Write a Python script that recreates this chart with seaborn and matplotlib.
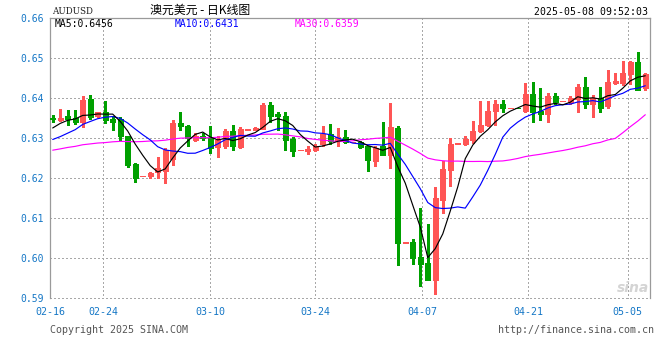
import numpy as np
import pandas as pd
import matplotlib
matplotlib.use("Agg")
import matplotlib.pyplot as plt
import seaborn as sns

# ---------------- data ----------------
# closes of the 29 sessions before the visible window (only used for the moving averages)
prior_close = [0.6255, 0.6240, 0.6262, 0.6275, 0.6290,
               0.6300, 0.6312, 0.6285, 0.6270, 0.6250,
               0.6215, 0.6190, 0.6175, 0.6210, 0.6225,
               0.6250, 0.6268, 0.6285, 0.6290, 0.6297,
               0.6280, 0.6262, 0.6255, 0.6265, 0.6280,
               0.6295, 0.6310, 0.6325, 0.6352]

open_ = [0.6351, 0.6346, 0.6356, 0.6351, 0.6342, 0.6398, 0.6355, 0.6365, 0.6349, 0.6348,
         0.6305, 0.6235, 0.6206, 0.6207, 0.6215, 0.6219, 0.6248, 0.6338, 0.6332, 0.6297,
         0.6307, 0.6301, 0.6279, 0.6281, 0.6319, 0.6278, 0.6322, 0.6321, 0.6323, 0.6383,
         0.6360, 0.6356, 0.6298, 0.6270, 0.6268, 0.6270, 0.6285, 0.6310, 0.6294, 0.6304,
         0.6290, 0.6291, 0.6281, 0.6244, 0.6281, 0.6258, 0.6326, 0.6039, 0.6040, 0.6003,
         0.5988, 0.5946, 0.6147, 0.6220, 0.6287, 0.6287, 0.6297, 0.6319, 0.6334, 0.6369,
         0.6386, 0.6375, 0.6376, 0.6368, 0.6411, 0.6368, 0.6361, 0.6406, 0.6393, 0.6392,
         0.6398, 0.6429, 0.6385, 0.6400, 0.6380, 0.6439, 0.6439, 0.6460, 0.6492, 0.6425]
high = [0.6359, 0.6374, 0.6370, 0.6371, 0.6406, 0.6408, 0.6367, 0.6393, 0.6355, 0.6353,
        0.6306, 0.6239, 0.6207, 0.6215, 0.6254, 0.6277, 0.6345, 0.6365, 0.6333, 0.6314,
        0.6314, 0.6332, 0.6307, 0.6323, 0.6334, 0.6329, 0.6323, 0.6329, 0.6389, 0.6391,
        0.6367, 0.6365, 0.6304, 0.6271, 0.6280, 0.6285, 0.6330, 0.6336, 0.6325, 0.6321,
        0.6292, 0.6294, 0.6281, 0.6281, 0.6342, 0.6389, 0.6331, 0.6040, 0.6048, 0.6127,
        0.6085, 0.6179, 0.6243, 0.6301, 0.6288, 0.6305, 0.6343, 0.6394, 0.6394, 0.6396,
        0.6396, 0.6376, 0.6376, 0.6439, 0.6442, 0.6425, 0.6414, 0.6414, 0.6394, 0.6406,
        0.6436, 0.6453, 0.6408, 0.6429, 0.6471, 0.6464, 0.6494, 0.6494, 0.6517, 0.6463]
low = [0.6340, 0.6344, 0.6334, 0.6337, 0.6328, 0.6348, 0.6353, 0.6338, 0.6320, 0.6295,
       0.6229, 0.6192, 0.6206, 0.6200, 0.6202, 0.6188, 0.6233, 0.6322, 0.6282, 0.6294,
       0.6297, 0.6264, 0.6254, 0.6276, 0.6272, 0.6276, 0.6322, 0.6320, 0.6323, 0.6342,
       0.6322, 0.6270, 0.6257, 0.6270, 0.6262, 0.6268, 0.6280, 0.6285, 0.6280, 0.6288,
       0.6290, 0.6276, 0.6219, 0.6230, 0.6258, 0.6227, 0.5983, 0.6039, 0.5986, 0.5930,
       0.5945, 0.5911, 0.6114, 0.6181, 0.6287, 0.6284, 0.6289, 0.6317, 0.6331, 0.6334,
       0.6365, 0.6375, 0.6375, 0.6367, 0.6342, 0.6347, 0.6342, 0.6386, 0.6393, 0.6386,
       0.6367, 0.6375, 0.6354, 0.6367, 0.6377, 0.6437, 0.6433, 0.6437, 0.6421, 0.6422]
close = [0.6348, 0.6352, 0.6349, 0.6342, 0.6396, 0.6353, 0.6365, 0.6347, 0.6342, 0.6305,
         0.6233, 0.6202, 0.6207, 0.6213, 0.6225, 0.6272, 0.6338, 0.6332, 0.6301, 0.6307,
         0.6301, 0.6277, 0.6295, 0.6319, 0.6281, 0.6323, 0.6323, 0.6327, 0.6383, 0.6357,
         0.6356, 0.6297, 0.6268, 0.6271, 0.6274, 0.6282, 0.6310, 0.6294, 0.6304, 0.6290,
         0.6292, 0.6278, 0.6246, 0.6277, 0.6258, 0.6328, 0.6038, 0.6040, 0.6001, 0.5986,
         0.5946, 0.6150, 0.6224, 0.6287, 0.6288, 0.6298, 0.6319, 0.6334, 0.6369, 0.6386,
         0.6375, 0.6376, 0.6375, 0.6411, 0.6367, 0.6361, 0.6406, 0.6392, 0.6393, 0.6400,
         0.6429, 0.6385, 0.6400, 0.6377, 0.6442, 0.6444, 0.6464, 0.6492, 0.6422, 0.6460]

date_labels = ["02-16", "02-24", "03-10", "03-24", "04-07", "04-21", "05-05"]
y_values = [0.59, 0.60, 0.61, 0.62, 0.63, 0.64, 0.65, 0.66]

symbol = "AUDUSD"
title = "澳元美元 - 日K线图"
timestamp = "2025-05-08 09:52:03"
copyright_text = "Copyright 2025 SINA.COM"
url_text = "http://finance.sina.com.cn"

# ---------------- layout / style ----------------
W, H = 660, 360
RED = "#FF5555"
GREEN = "#00A000"
LABEL_BLUE = "#1577C6"
GRID = "#A8A8A8"
FRAME = "#9A9A9A"
MONO = "DejaVu Sans Mono"

# date tick positions on the candle-index axis
tick_pos = [-0.36, 6.75, 21, 35, 49.27, 63.4, 76.66]

sns.set_style("white")
plt.rcParams["font.family"] = [MONO, "Noto Sans CJK SC"]

fig = plt.figure(figsize=(W / 100, H / 100), dpi=100)
ax = fig.add_axes([50 / W, 1 - 298.5 / H, 599.5 / W, 280.2 / H])

n = len(close)
idx = np.arange(n)
df = pd.DataFrame({"i": idx, "open": open_, "high": high, "low": low, "close": close})

allc = pd.Series(prior_close + close)
k = len(prior_close)
df["ma5"] = allc.rolling(5).mean().iloc[k:].values
df["ma10"] = allc.rolling(10).mean().iloc[k:].values
df["ma30"] = allc.rolling(30).mean().iloc[k:].values

# grid
for v in y_values[:-1]:
    ax.axhline(v, color=GRID, lw=0.75, ls=(0, (1, 2)), zorder=0, antialiased=False)
for p in tick_pos[1:]:
    ax.axvline(p, color=GRID, lw=0.75, ls=(0, (1, 2)), zorder=0, antialiased=False)

# candles
colors = [RED if c >= o else GREEN for o, c in zip(df["open"], df["close"])]
ax.vlines(df["i"], df["low"], df["high"], colors=colors, lw=0.75, zorder=2, antialiased=False)
bottoms = np.minimum(df["open"], df["close"])
heights = np.abs(df["close"] - df["open"])
ax.bar(df["i"], heights, bottom=bottoms, width=0.72, color=colors, edgecolor=colors,
       linewidth=0.7, zorder=3, antialiased=False)

# moving averages
sns.lineplot(data=df, x="i", y="ma30", color="#FF00FF", lw=0.85, ax=ax, zorder=4)
sns.lineplot(data=df, x="i", y="ma10", color="#0000FF", lw=0.85, ax=ax, zorder=5)
sns.lineplot(data=df, x="i", y="ma5", color="#000000", lw=0.85, ax=ax, zorder=6)

ax.set_xlim(-0.36, 79.56)
ax.set_ylim(0.59, 0.66)
ax.set_xlabel("")
ax.set_ylabel("")
ax.set_yticks(y_values)
ax.set_yticklabels([f"{v:.2f}" for v in y_values])
ax.set_xticks(tick_pos)
ax.set_xticklabels(date_labels)
ax.tick_params(axis="y", length=0, pad=4.5, labelsize=7, labelcolor=LABEL_BLUE)
ax.tick_params(axis="x", length=0, pad=6, labelsize=7.2, labelcolor=LABEL_BLUE)
for s in ["top", "left", "right"]:
    ax.spines[s].set_color(FRAME)
    ax.spines[s].set_linewidth(0.9)
ax.spines["bottom"].set_visible(False)
ax.grid(False)


def ftext(px, py, s, **kw):
    fig.text(px / W, 1 - py / H, s, **kw)


# header
ftext(52, 12, symbol, ha="left", va="center", family="DejaVu Serif", size=6.3, color="#222222")
ftext(200, 10, title, ha="center", va="center", family=["Noto Sans CJK SC", "DejaVu Sans"],
      size=8.6, color="#000000")
ftext(648, 12, timestamp, ha="right", va="center", size=7.1, color="#000000")

last = df.iloc[-1]
ftext(55, 24, f"MA5:{last['ma5']:.4f}", ha="left", va="center", size=7, color="#000000")
ftext(175, 24, f"MA10:{last['ma10']:.4f}", ha="left", va="center", size=7, color="#0000FF")
ftext(295, 24, f"MA30:{last['ma30']:.4f}", ha="left", va="center", size=7, color="#FF00FF")

# watermark
ftext(633, 288, "sina", ha="center", va="center", family="DejaVu Sans", size=10,
      style="italic", weight="bold", color="#D4D4D4")

# footer
ftext(50, 330, copyright_text, ha="left", va="center", size=7.2, color="#555555")
ftext(654, 330, url_text, ha="right", va="center", size=7.2, color="#555555")

fig.savefig("out.png", dpi=100)
